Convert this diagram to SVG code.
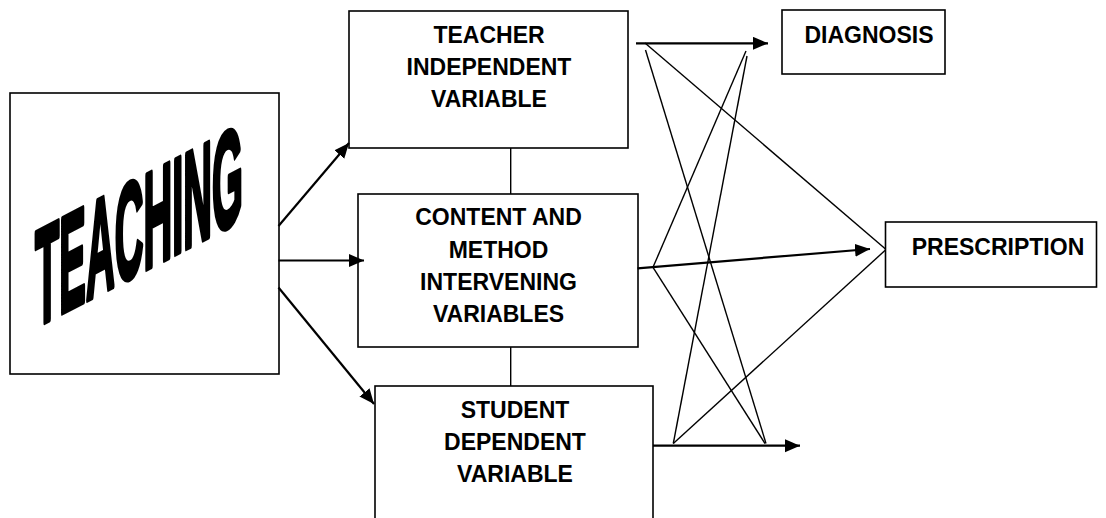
<svg xmlns="http://www.w3.org/2000/svg" width="1106" height="518" viewBox="0 0 1106 518">
<style>
.box{fill:#fff;stroke:#000;stroke-width:1.6}
.lbl{font-family:"Liberation Sans",Arial,sans-serif;font-weight:bold;font-size:23px;fill:#000;text-anchor:middle}
.arr{stroke:#000;stroke-width:2.2;fill:none}
.thin{stroke:#000;stroke-width:1.4;fill:none}
</style>
<defs>
<marker id="ah" markerUnits="userSpaceOnUse" markerWidth="16" markerHeight="14" refX="15" refY="6.5" orient="auto">
<path d="M0,0 L15,6.5 L0,13 z" fill="#000"/>
</marker>
</defs>
<rect width="1106" height="518" fill="#fff"/>
<g id="teaching">
<rect class="box" x="10" y="93" width="269" height="281"/>
<text x="0" y="0" transform="translate(35,327) skewY(-27.5)" font-family="Liberation Sans,Arial,sans-serif" font-weight="bold" font-size="136" textLength="208" lengthAdjust="spacingAndGlyphs" fill="#000" stroke="#000" stroke-width="6" stroke-linejoin="round">TEACHING</text>
</g>
<g id="teacher">
<rect class="box" x="349" y="11" width="279" height="137"/>
<text class="lbl" x="489" y="43">TEACHER</text>
<text class="lbl" x="489" y="75">INDEPENDENT</text>
<text class="lbl" x="489" y="107">VARIABLE</text>
</g>
<g id="content">
<rect class="box" x="358" y="194" width="280" height="153"/>
<text class="lbl" x="498.5" y="225">CONTENT AND</text>
<text class="lbl" x="498.5" y="258">METHOD</text>
<text class="lbl" x="498.5" y="290">INTERVENING</text>
<text class="lbl" x="498.5" y="322">VARIABLES</text>
</g>
<g id="student">
<rect class="box" x="375" y="386" width="278" height="150"/>
<text class="lbl" x="515" y="418">STUDENT</text>
<text class="lbl" x="515" y="450">DEPENDENT</text>
<text class="lbl" x="515" y="482">VARIABLE</text>
</g>
<g id="diagnosis">
<rect class="box" x="782" y="10" width="163" height="64"/>
<text class="lbl" x="869" y="42.7">DIAGNOSIS</text>
</g>
<g id="prescription">
<rect class="box" x="885.5" y="222" width="211" height="65"/>
<text class="lbl" x="998" y="255">PRESCRIPTION</text>
</g>
<g id="connectors">
<line class="thin" x1="510.7" y1="148" x2="510.7" y2="194"/>
<line class="thin" x1="510.7" y1="347" x2="510.7" y2="386"/>
<line class="arr" x1="278.5" y1="226" x2="349" y2="143" marker-end="url(#ah)"/>
<line class="arr" x1="278.5" y1="260.5" x2="364" y2="260.5" marker-end="url(#ah)"/>
<line class="arr" x1="278.5" y1="287.5" x2="374" y2="404" marker-end="url(#ah)"/>
<line class="arr" x1="636" y1="43.3" x2="768" y2="43.3" marker-end="url(#ah)"/>
<line class="arr" x1="637.5" y1="268.3" x2="870" y2="249" marker-end="url(#ah)"/>
<line class="arr" x1="653" y1="445.7" x2="800" y2="445.7" marker-end="url(#ah)"/>
<line class="thin" x1="645" y1="43" x2="885.5" y2="249"/>
<line class="thin" x1="645.5" y1="50" x2="766" y2="443.5"/>
<line class="thin" x1="746" y1="51" x2="653" y2="267.3"/>
<line class="thin" x1="747" y1="56" x2="673.3" y2="443.5"/>
<line class="thin" x1="653" y1="267.3" x2="765" y2="443.5"/>
<line class="thin" x1="673.3" y1="443.5" x2="885.5" y2="250"/>
</g>
</svg>
